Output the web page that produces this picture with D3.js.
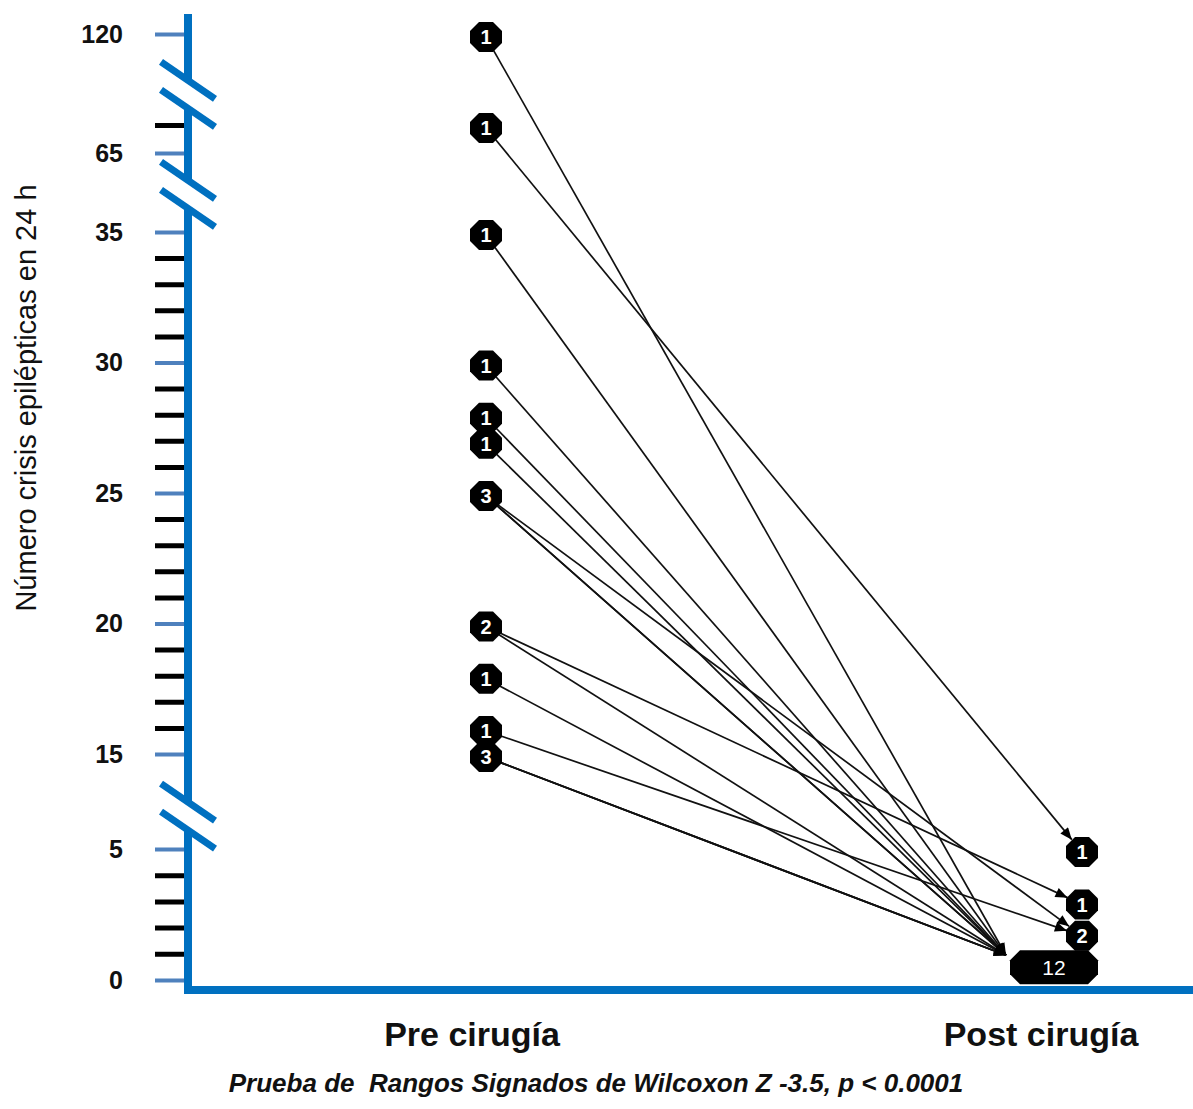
<!DOCTYPE html>
<html><head><meta charset="utf-8">
<script src="https://cdn.jsdelivr.net/npm/d3@7"></script>
<style>body{margin:0;background:#fff} svg{display:block}</style>
</head><body><svg id="chart" width="1193" height="1109"></svg>
<script>
// ---------- data ----------
const groups = ["Pre cirugía", "Post cirugía"];
const preValues = [120, 66, 35, 30, 28, 27, 25, 20, 18, 16, 15];
const preCounts = [1, 1, 1, 1, 1, 1, 3, 2, 1, 1, 3];
const postValues = [5, 3, 1.8, 0.6];
const postCounts = [1, 1, 2, 12];
// individual patient transitions (pre value -> post value)
const transFrom = [120, 66, 35, 30, 28, 27, 25, 25, 25, 20, 20, 18, 16, 15, 15, 15];
const transTo   = [0.6, 5, 0.6, 0.6, 0.6, 0.6, 0.6, 0.6, 1.8, 3, 0.6, 0.6, 1.8, 0.6, 0.6, 0.6];
const majorTicks = [0, 5, 15, 20, 25, 30, 35, 65, 120];
const minorTicks = [1, 2, 3, 4, 16, 17, 18, 19, 21, 22, 23, 24, 26, 27, 28, 29, 31, 32, 33, 34, 66];
const scaleBreaks = [[5, 15], [35, 65], [66, 120]];
const yTitle = "Número crisis epilépticas en 24 h";
const footnote = "Prueba de  Rangos Signados de Wilcoxon Z -3.5, p < 0.0001";

// ---------- styles ----------
const FONT = "Arial, 'Liberation Sans', sans-serif";
const AXIS_BLUE = "#0070C0";
const TICK_BLUE = "#4F81BD";
const axisX = 188;
const breakFrac = [0.34, 0.47, 0.33];
const markerDy = 3;

const svg = d3.select("#chart");
const y = d3.scaleLinear().domain([0, 5, 15, 35, 65, 66, 120]).range([980, 849, 754, 232, 153, 125, 34]);
const x = d3.scalePoint().domain(groups).range([486, 1082]);

// arrow marker
svg.append("defs").append("marker")
  .attr("id", "arrow").attr("viewBox", "0 -5 12 10")
  .attr("refX", 12).attr("refY", 0)
  .attr("markerWidth", 13).attr("markerHeight", 10)
  .attr("markerUnits", "userSpaceOnUse").attr("orient", "auto")
  .append("path").attr("d", "M0,-5L12,0L0,5Z").attr("fill", "#000");

// ---------- axis ----------
const minorAxis = d3.axisLeft(y).tickValues(minorTicks).tickSize(33).tickFormat("");
const gMin = svg.append("g").attr("transform", `translate(${axisX},0)`).call(minorAxis);
gMin.select(".domain").remove();
gMin.selectAll(".tick line").attr("stroke", "#000").attr("stroke-width", 5);

const majorAxis = d3.axisLeft(y).tickValues(majorTicks).tickSize(33).tickPadding(32).tickFormat(d3.format("d"));
const gMaj = svg.append("g").attr("transform", `translate(${axisX},0)`).call(majorAxis);
gMaj.select(".domain").remove();
gMaj.selectAll(".tick line").attr("stroke", TICK_BLUE).attr("stroke-width", 4);
gMaj.selectAll(".tick text").attr("font-family", FONT).attr("font-size", 25)
  .attr("font-weight", "bold").attr("fill", "#111");

// broken vertical axis line
const breakCenters = scaleBreaks.map((b, i) => y(b[0]) + (y(b[1]) - y(b[0])) * breakFrac[i]).sort((a, b) => a - b);
const gap = 14;
const segs = [];
let segTop = 14;
breakCenters.forEach(c => { segs.push([segTop, c - gap]); segTop = c + gap; });
segs.push([segTop, 994]);
svg.append("g").selectAll("line").data(segs).join("line")
  .attr("x1", axisX).attr("x2", axisX).attr("y1", d => d[0]).attr("y2", d => d[1])
  .attr("stroke", AXIS_BLUE).attr("stroke-width", 8);
// slashes
const slashY = [];
breakCenters.forEach(c => { slashY.push(c - gap); slashY.push(c + gap); });
svg.append("g").selectAll("line").data(slashY).join("line")
  .attr("x1", axisX - 27).attr("y1", d => d - 19)
  .attr("x2", axisX + 27).attr("y2", d => d + 18)
  .attr("stroke", AXIS_BLUE).attr("stroke-width", 7);
// horizontal axis
svg.append("line").attr("x1", axisX - 4).attr("x2", 1193).attr("y1", 990).attr("y2", 990)
  .attr("stroke", AXIS_BLUE).attr("stroke-width", 8);

// ---------- markers geometry ----------
function markerBox(group, value, count) {
  const label = String(count);
  const w = label.length > 1 ? 88 : 32;
  const h = label.length > 1 ? 34 : 30;
  const gx = x(group);
  const cx = group === groups[1] ? gx + 16 - w / 2 : gx;
  const cy = y(value) + markerDy;
  return { cx, cy, w, h, label };
}
const preNodes = preValues.map((v, i) => markerBox(groups[0], v, preCounts[i]));
const postNodes = postValues.map((v, i) => markerBox(groups[1], v, postCounts[i]));

// ---------- transition lines ----------
const linkData = transFrom.map((f, i) => {
  const a = preNodes[preValues.indexOf(f)];
  const b = postNodes[postValues.indexOf(transTo[i])];
  let tx, ty;
  if (b.w > 40) { tx = b.cx - b.w / 2 - 4; ty = b.cy - 12; } else { tx = b.cx; ty = b.cy; }
  const dx = tx - a.cx, dy = ty - a.cy, L = Math.hypot(dx, dy);
  const ux = dx / L, uy = dy / L;
  const endTrim = b.w > 40 ? 0 : 16;
  return { x1: a.cx + ux * 15, y1: a.cy + uy * 15, x2: tx - ux * endTrim, y2: ty - uy * endTrim };
});
svg.append("g").selectAll("line").data(linkData).join("line")
  .attr("x1", d => d.x1).attr("y1", d => d.y1).attr("x2", d => d.x2).attr("y2", d => d.y2)
  .attr("stroke", "#111").attr("stroke-width", 1.7).attr("marker-end", "url(#arrow)");

// ---------- markers ----------
function octagon(d) {
  const c = d.w > 40 ? 10 : 9;
  const l = d.cx - d.w / 2, r = d.cx + d.w / 2, t = d.cy - d.h / 2, b = d.cy + d.h / 2;
  return `M${l + c},${t}L${r - c},${t}L${r},${t + c}L${r},${b - c}L${r - c},${b}L${l + c},${b}L${l},${b - c}L${l},${t + c}Z`;
}
const allNodes = preNodes.concat(postNodes);
const gN = svg.append("g").selectAll("g").data(allNodes).join("g");
gN.append("path").attr("d", octagon).attr("fill", "#000");
gN.append("text").attr("x", d => d.cx).attr("y", d => d.cy).attr("dy", "0.36em")
  .attr("text-anchor", "middle").attr("fill", "#fff").attr("font-family", FONT)
  .attr("font-size", d => d.w > 40 ? 21 : 20).attr("font-weight", d => d.w > 40 ? "normal" : "bold")
  .text(d => d.label);

// ---------- texts ----------
const labelDx = [-14, -41];
svg.append("g").selectAll("text").data(groups).join("text")
  .attr("x", (d, i) => x(d) + labelDx[i]).attr("y", 1046)
  .attr("text-anchor", "middle").attr("font-family", FONT).attr("font-size", 34)
  .attr("font-weight", "bold").attr("fill", "#111").text(d => d);

svg.append("text").attr("transform", "translate(36,398) rotate(-90)")
  .attr("text-anchor", "middle").attr("font-family", FONT).attr("font-size", 29)
  .attr("fill", "#111").text(yTitle);

svg.append("text").attr("x", 596).attr("y", 1092).attr("text-anchor", "middle")
  .style("white-space", "pre")
  .attr("font-family", FONT).attr("font-size", 26).attr("font-style", "italic")
  .attr("font-weight", "bold").attr("fill", "#111").text(footnote);
</script></body></html>
